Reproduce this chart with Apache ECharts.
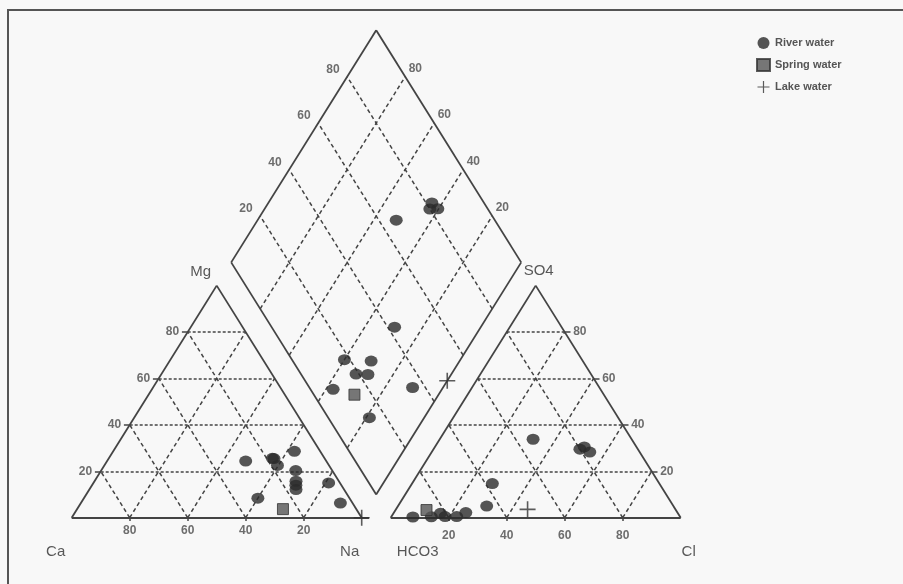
<!DOCTYPE html>
<html>
<head>
<meta charset="utf-8">
<title>Piper diagram</title>
<script src="https://cdn.jsdelivr.net/npm/echarts@6/dist/echarts.min.js"></script>
<style>
  html, body { margin: 0; padding: 0; background: #f8f8f8; }
  #chart { width: 903px; height: 584px; }
</style>
</head>
<body>
<div id="chart"></div>
<script>
// cations in % meq/l: [Ca, Mg, Na]
const riverCations = [
  [18.0, 25.6, 56.4],
  [17.5, 25.5, 57.0],
  [17.8, 22.5, 59.7],
  [27.8, 24.4, 47.8],
  [15.7, 14.0, 70.3],
  [31.6, 8.4, 60.0],
  [14.8, 15.7, 69.5],
  [12.6, 20.3, 67.1],
  [16.6, 12.1, 71.3],
  [8.9, 28.6, 62.5],
  [4.2, 6.3, 89.5],
  [3.9, 15.0, 81.1]
]
// anions in % meq/l: [HCO3, SO4, Cl]
const riverAnions = [
  [18.0, 30.5, 51.5],
  [20.0, 29.5, 50.5],
  [17.2, 28.3, 54.5],
  [34.0, 33.8, 32.2],
  [57.6, 14.7, 27.7],
  [81.9, 1.9, 16.2],
  [73.0, 2.2, 24.8],
  [81.0, 0.5, 18.5],
  [77.0, 0.5, 22.5],
  [92.2, 0.3, 7.5],
  [64.4, 5.0, 30.6],
  [85.8, 0.4, 13.8]
]
const springCations = [[25.3, 3.7, 71.0]]
const springAnions = [[86.0, 3.3, 10.7]]
const lakeCations = [[0, 0, 100]]
const lakeAnions = [[51.0, 3.6, 45.4]]

const tickValues = [20, 40, 60, 80]
const cationNames = ['Ca', 'Mg', 'Na']
const anionNames = ['HCO3', 'SO4', 'Cl']

const H = Math.sqrt(3) / 2
const GAP = 10

// ternary -> plane coordinates
function cat(p) { return [p[2] + p[1] / 2, p[1] * H] }
function an(p) { return [100 + GAP + p[2] + p[1] / 2, p[1] * H] }
function dia(c, a) {
  const x = (a[1] + a[2]) / 100
  const y = (c[0] + c[1]) / 100
  return [100 + GAP / 2 + 50 * (x - y), GAP * H + 100 * H * (x + y)]
}

function project(cations, anions) {
  const out = []
  cations.forEach((c, i) => {
    out.push(cat(c), an(anions[i]), dia(c, anions[i]))
  })
  return out
}

const outline = []
const dashes = []
const hdashes = []
const ticks = []
function seg(arr, p, q) { arr.push({ coords: [p, q] }) }

// outlines
const C_CA = [100, 0, 0], C_MG = [0, 100, 0], C_NA = [0, 0, 100]
const A_HC = [100, 0, 0], A_SO = [0, 100, 0], A_CL = [0, 0, 100]
seg(outline, cat(C_CA), [cat(C_NA)[0] + 2.5, 0])
seg(outline, cat(C_NA), cat(C_MG))
seg(outline, cat(C_MG), cat(C_CA))
seg(outline, an(A_HC), an(A_CL))
seg(outline, an(A_CL), an(A_SO))
seg(outline, an(A_SO), an(A_HC))
seg(outline, dia(C_NA, A_HC), dia(C_NA, A_SO))
seg(outline, dia(C_NA, A_SO), dia(C_CA, A_SO))
seg(outline, dia(C_CA, A_SO), dia(C_CA, A_HC))
seg(outline, dia(C_CA, A_HC), dia(C_NA, A_HC))

const labels = []
tickValues.forEach(v => {
  // cation triangle
  seg(hdashes, cat([100 - v, v, 0]), cat([0, v, 100 - v]))
  seg(dashes, cat([v, 0, 100 - v]), cat([v, 100 - v, 0]))
  seg(dashes, cat([100 - v, 0, v]), cat([0, 100 - v, v]))
  // anion triangle
  seg(hdashes, an([100 - v, v, 0]), an([0, v, 100 - v]))
  seg(dashes, an([v, 0, 100 - v]), an([v, 100 - v, 0]))
  seg(dashes, an([100 - v, 0, v]), an([0, 100 - v, v]))
  // diamond
  seg(dashes, dia(C_NA, [100 - v, v, 0]), dia(C_CA, [100 - v, v, 0]))
  seg(dashes, dia([v, 0, 100 - v], A_HC), dia([v, 0, 100 - v], A_SO))

  // ticks
  const b1 = cat([v, 0, 100 - v])
  seg(ticks, [b1[0], -1.2], [b1[0], 0.6])
  const b2 = an([100 - v, 0, v])
  seg(ticks, [b2[0], -1.2], [b2[0], 0.6])
  const l1 = cat([100 - v, v, 0])
  seg(ticks, [l1[0] - 2, l1[1]], l1)
  const r1 = an([0, v, 100 - v])
  seg(ticks, r1, [r1[0] + 2, r1[1]])

  // tick labels
  labels.push({ value: [...b1, String(v)], label: { position: 'bottom', distance: 6 } })
  labels.push({ value: [...b2, String(v)], label: { position: 'bottom', distance: 11 } })
  labels.push({ value: [...l1, String(v)], label: { position: 'left', distance: 8 } })
  labels.push({ value: [...r1, String(v)], label: { position: 'right', distance: 8 } })
  labels.push({ value: [...dia(C_CA, [100 - v, v, 0]), String(v)], label: { position: 'left', distance: 7, offset: [0, -7] } })
  labels.push({ value: [...dia([v, 0, 100 - v], A_SO), String(v)], label: { position: 'right', distance: 3, offset: [0, -8] } })
})

const cornerLabels = [
  { value: [...cat(C_CA), cationNames[0]], label: { offset: [-16, 34] } },
  { value: [...cat(C_MG), cationNames[1]], label: { offset: [-16, -14] } },
  { value: [...cat(C_NA), cationNames[2]], label: { offset: [-12, 34] } },
  { value: [...an(A_HC), anionNames[0]], label: { offset: [27, 34] } },
  { value: [...an(A_SO), anionNames[1]], label: { offset: [3, -15] } },
  { value: [...an(A_CL), anionNames[2]], label: { offset: [8, 34] } }
]

const FONT = 'Liberation Sans, Arial, sans-serif'
const plusPath = 'path://M0,9H9V0H11V9H20V11H11V20H9V11H0Z'

const chart = echarts.init(document.getElementById('chart'))
chart.setOption({
  animation: false,
  backgroundColor: '#f8f8f8',
  grid: { left: 13.7, right: 106.3, top: 8.5, bottom: 12.7 },
  xAxis: { type: 'value', min: -20, max: 250, show: false },
  yAxis: { type: 'value', min: -20, max: 190, show: false },
  graphic: [{
    type: 'rect',
    shape: { x: 8, y: 10, width: 1000, height: 700 },
    style: { fill: 'none', stroke: '#555', lineWidth: 2 },
    silent: true
  }],
  legend: {
    orient: 'vertical',
    left: 751,
    top: 32,
    itemWidth: 13,
    itemHeight: 12,
    itemGap: 9,
    textStyle: { fontSize: 11, fontWeight: 'bold', color: '#555', fontFamily: FONT },
    data: ['River water', 'Spring water', 'Lake water']
  },
  series: [
    {
      type: 'lines', coordinateSystem: 'cartesian2d', silent: true, clip: false,
      lineStyle: { color: '#444', width: 1.8, opacity: 1 },
      data: outline
    },
    {
      type: 'lines', coordinateSystem: 'cartesian2d', silent: true, clip: false,
      lineStyle: { color: '#444', width: 1.5, type: [4, 3], opacity: 1 },
      data: dashes
    },
    {
      type: 'lines', coordinateSystem: 'cartesian2d', silent: true, clip: false,
      lineStyle: { color: '#444', width: 1.5, type: [3, 2], opacity: 1 },
      data: hdashes
    },
    {
      type: 'lines', coordinateSystem: 'cartesian2d', silent: true, clip: false,
      lineStyle: { color: '#444', width: 1.5, opacity: 1 },
      data: ticks
    },
    {
      type: 'scatter', silent: true, clip: false, symbolSize: 1,
      itemStyle: { color: 'transparent' },
      label: {
        show: true, formatter: p => p.value[2],
        fontSize: 12, fontWeight: 'bold', color: '#4a4a4a', fontFamily: FONT
      },
      data: labels
    },
    {
      type: 'scatter', silent: true, clip: false, symbolSize: 1,
      itemStyle: { color: 'transparent' },
      label: {
        show: true, position: 'inside', formatter: p => p.value[2],
        fontSize: 15, color: '#2e2e2e', fontFamily: FONT
      },
      data: cornerLabels
    },
    {
      name: 'River water', type: 'scatter', clip: false,
      symbol: 'circle', symbolSize: [13, 11],
      itemStyle: { color: '#2a2a2a' },
      data: project(riverCations, riverAnions)
    },
    {
      name: 'Spring water', type: 'scatter', clip: false,
      symbol: 'rect', symbolSize: 11,
      itemStyle: { color: '#555', borderColor: '#333', borderWidth: 1 },
      data: project(springCations, springAnions)
    },
    {
      name: 'Lake water', type: 'scatter', clip: false,
      symbol: plusPath, symbolSize: 16,
      itemStyle: { color: '#333' },
      data: project(lakeCations, lakeAnions)
    }
  ]
})
</script>
</body>
</html>
